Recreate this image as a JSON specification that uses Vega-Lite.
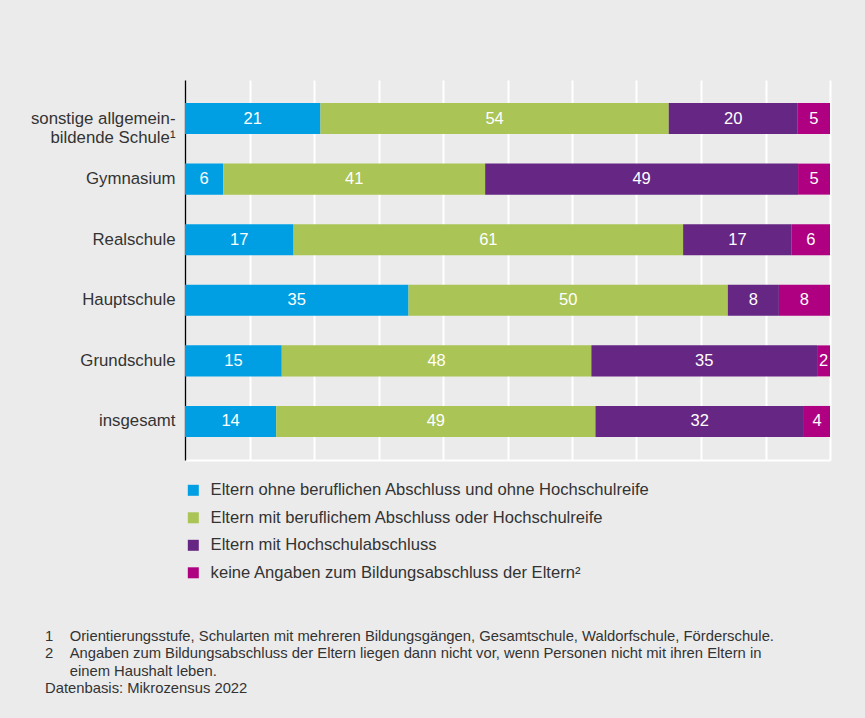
{
  "$schema": "https://vega.github.io/schema/vega-lite/v6.json",
  "width": 645,
  "height": 380,
  "autosize": {"type": "none"},
  "padding": {"left": 185, "top": 80, "right": 35, "bottom": 258},
  "background": "#ebebeb",
  "config": {"view": {"stroke": null}, "font": "Liberation Sans"},
  "data": {
    "values": [
      {"school": "sonstige allgemein-|bildende Schule¹", "cat": "Eltern ohne beruflichen Abschluss und ohne Hochschulreife", "order": 1, "value": 21},
      {"school": "sonstige allgemein-|bildende Schule¹", "cat": "Eltern mit beruflichem Abschluss oder Hochschulreife", "order": 2, "value": 54},
      {"school": "sonstige allgemein-|bildende Schule¹", "cat": "Eltern mit Hochschulabschluss", "order": 3, "value": 20},
      {"school": "sonstige allgemein-|bildende Schule¹", "cat": "keine Angaben zum Bildungsabschluss der Eltern²", "order": 4, "value": 5},
      {"school": "Gymnasium", "cat": "Eltern ohne beruflichen Abschluss und ohne Hochschulreife", "order": 1, "value": 6},
      {"school": "Gymnasium", "cat": "Eltern mit beruflichem Abschluss oder Hochschulreife", "order": 2, "value": 41},
      {"school": "Gymnasium", "cat": "Eltern mit Hochschulabschluss", "order": 3, "value": 49},
      {"school": "Gymnasium", "cat": "keine Angaben zum Bildungsabschluss der Eltern²", "order": 4, "value": 5},
      {"school": "Realschule", "cat": "Eltern ohne beruflichen Abschluss und ohne Hochschulreife", "order": 1, "value": 17},
      {"school": "Realschule", "cat": "Eltern mit beruflichem Abschluss oder Hochschulreife", "order": 2, "value": 61},
      {"school": "Realschule", "cat": "Eltern mit Hochschulabschluss", "order": 3, "value": 17},
      {"school": "Realschule", "cat": "keine Angaben zum Bildungsabschluss der Eltern²", "order": 4, "value": 6},
      {"school": "Hauptschule", "cat": "Eltern ohne beruflichen Abschluss und ohne Hochschulreife", "order": 1, "value": 35},
      {"school": "Hauptschule", "cat": "Eltern mit beruflichem Abschluss oder Hochschulreife", "order": 2, "value": 50},
      {"school": "Hauptschule", "cat": "Eltern mit Hochschulabschluss", "order": 3, "value": 8},
      {"school": "Hauptschule", "cat": "keine Angaben zum Bildungsabschluss der Eltern²", "order": 4, "value": 8},
      {"school": "Grundschule", "cat": "Eltern ohne beruflichen Abschluss und ohne Hochschulreife", "order": 1, "value": 15},
      {"school": "Grundschule", "cat": "Eltern mit beruflichem Abschluss oder Hochschulreife", "order": 2, "value": 48},
      {"school": "Grundschule", "cat": "Eltern mit Hochschulabschluss", "order": 3, "value": 35},
      {"school": "Grundschule", "cat": "keine Angaben zum Bildungsabschluss der Eltern²", "order": 4, "value": 2},
      {"school": "insgesamt", "cat": "Eltern ohne beruflichen Abschluss und ohne Hochschulreife", "order": 1, "value": 14},
      {"school": "insgesamt", "cat": "Eltern mit beruflichem Abschluss oder Hochschulreife", "order": 2, "value": 49},
      {"school": "insgesamt", "cat": "Eltern mit Hochschulabschluss", "order": 3, "value": 32},
      {"school": "insgesamt", "cat": "keine Angaben zum Bildungsabschluss der Eltern²", "order": 4, "value": 4}
    ]
  },
  "transform": [
    {"stack": "value", "groupby": ["school"], "sort": [{"field": "order", "order": "ascending"}], "as": ["v0", "v1"], "offset": "normalize"},
    {"calculate": "(datum.v0 + datum.v1) / 2", "as": "mid"}
  ],
  "encoding": {
    "y": {
      "field": "school",
      "type": "nominal",
      "sort": ["sonstige allgemein-|bildende Schule¹", "Gymnasium", "Realschule", "Hauptschule", "Grundschule", "insgesamt"],
      "scale": {"paddingInner": 0.488, "paddingOuter": 0.38},
      "axis": {
        "title": null,
        "ticks": false,
        "domainColor": "#000000",
        "domainWidth": 1.3,
        "labelFontSize": 16.8,
        "labelColor": "#333333",
        "labelPadding": 10,
        "labelLineHeight": 19,
        "labelExpr": "split(datum.label, '|')",
        "labelLimit": 300
      }
    }
  },
  "layer": [
    {
      "mark": {"type": "bar"},
      "encoding": {
        "x": {
          "field": "v0",
          "type": "quantitative",
          "scale": {"domain": [0, 1], "nice": false},
          "axis": {
            "title": null,
            "labels": false,
            "ticks": false,
            "domain": true,
            "domainColor": "#ffffff",
            "domainWidth": 2,
            "grid": true,
            "gridColor": "#ffffff",
            "gridWidth": 2,
            "values": [0.1, 0.2, 0.3, 0.4, 0.5, 0.6, 0.7, 0.8, 0.9, 1.0]
          }
        },
        "x2": {"field": "v1"},
        "color": {
          "field": "cat",
          "type": "nominal",
          "scale": {
            "domain": ["Eltern ohne beruflichen Abschluss und ohne Hochschulreife", "Eltern mit beruflichem Abschluss oder Hochschulreife", "Eltern mit Hochschulabschluss", "keine Angaben zum Bildungsabschluss der Eltern²"],
            "range": ["#009fe3", "#aac455", "#662683", "#ae0080"]
          },
          "legend": {
            "orient": "none",
            "legendX": 0,
            "legendY": 402,
            "title": null,
            "padding": 0,
            "symbolType": "square",
            "symbolSize": 121,
            "symbolStrokeWidth": 0,
            "symbolOpacity": 1,
            "labelFontSize": 16.6,
            "labelColor": "#333333",
            "labelOffset": 9,
            "labelLimit": 600,
            "rowPadding": 10.5
          }
        },
        "order": {"field": "order"}
      }
    },
    {
      "mark": {"type": "text", "color": "#ffffff", "fontSize": 16.5},
      "encoding": {
        "x": {"field": "mid", "type": "quantitative"},
        "text": {"field": "value", "type": "quantitative"}
      }
    }
  ],
  "title": {
    "text": [
      "1\u00a0\u00a0\u00a0\u00a0Orientierungsstufe, Schularten mit mehreren Bildungsgängen, Gesamtschule, Waldorfschule, Förderschule.",
      "2\u00a0\u00a0\u00a0\u00a0Angaben zum Bildungsabschluss der Eltern liegen dann nicht vor, wenn Personen nicht mit ihren Eltern in",
      "\u200b\u00a0\u00a0\u00a0\u00a0\u00a0\u00a0einem Haushalt leben.",
      "Datenbasis: Mikrozensus 2022"
    ],
    "orient": "bottom",
    "anchor": "start",
    "frame": "group",
    "offset": 47,
    "dx": -140,
    "fontSize": 14.8,
    "fontWeight": "normal",
    "color": "#333333",
    "lineHeight": 17.3,
    "baseline": "top"
  }
}
